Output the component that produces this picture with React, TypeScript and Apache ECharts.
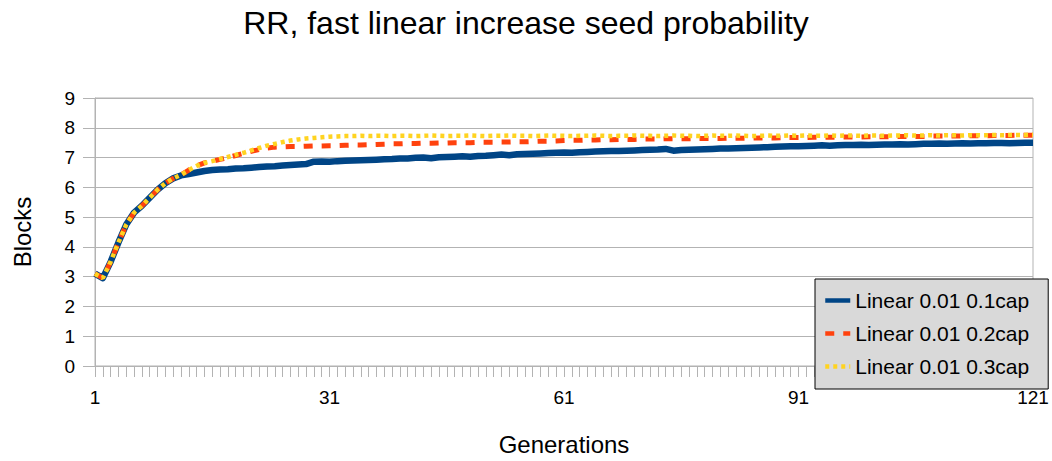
import React, { useEffect, useRef } from "react";
import * as echarts from "echarts";

const generations: string[] = Array.from({ length: 121 }, (_, i) => String(i + 1));

const linear01: number[] = [
  3.10, 2.95, 3.50, 4.15, 4.75, 5.15, 5.38, 5.65, 5.92, 6.14,
  6.30, 6.40, 6.45, 6.50, 6.55, 6.58, 6.60, 6.61, 6.63, 6.64,
  6.66, 6.68, 6.70, 6.71, 6.73, 6.75, 6.77, 6.78, 6.86, 6.87,
  6.86, 6.88, 6.89, 6.90, 6.91, 6.92, 6.93, 6.94, 6.95, 6.97,
  6.97, 6.99, 7.00, 6.98, 7.01, 7.02, 7.03, 7.04, 7.03, 7.05,
  7.06, 7.08, 7.10, 7.08, 7.11, 7.12, 7.13, 7.14, 7.15, 7.16,
  7.17, 7.16, 7.18, 7.19, 7.20, 7.21, 7.22, 7.22, 7.23, 7.24,
  7.25, 7.26, 7.27, 7.29, 7.23, 7.25, 7.26, 7.27, 7.28, 7.29,
  7.30, 7.30, 7.31, 7.32, 7.33, 7.34, 7.35, 7.36, 7.37, 7.38,
  7.38, 7.39, 7.40, 7.41, 7.40, 7.41, 7.42, 7.42, 7.43, 7.42,
  7.43, 7.44, 7.44, 7.45, 7.44, 7.45, 7.46, 7.46, 7.47, 7.46,
  7.47, 7.48, 7.47, 7.48, 7.48, 7.49, 7.49, 7.48, 7.49, 7.50,
  7.50,
];

const linear02: number[] = [
  3.10, 2.95, 3.50, 4.15, 4.75, 5.15, 5.38, 5.65, 5.92, 6.14,
  6.30, 6.42, 6.58, 6.72, 6.82, 6.88, 6.94, 7.00, 7.07, 7.14,
  7.21, 7.27, 7.32, 7.35, 7.36, 7.37, 7.37, 7.38, 7.39, 7.39,
  7.40, 7.40, 7.41, 7.42, 7.42, 7.43, 7.44, 7.45, 7.46, 7.46,
  7.47, 7.47, 7.48, 7.48, 7.49, 7.49, 7.50, 7.50, 7.50, 7.51,
  7.51, 7.51, 7.52, 7.52, 7.53, 7.53, 7.54, 7.55, 7.55, 7.56,
  7.57, 7.58, 7.58, 7.59, 7.59, 7.60, 7.60, 7.61, 7.61, 7.61,
  7.62, 7.62, 7.62, 7.63, 7.63, 7.63, 7.63, 7.64, 7.64, 7.64,
  7.64, 7.65, 7.65, 7.65, 7.65, 7.66, 7.66, 7.66, 7.67, 7.67,
  7.67, 7.67, 7.68, 7.68, 7.68, 7.68, 7.69, 7.69, 7.69, 7.70,
  7.70, 7.70, 7.70, 7.71, 7.71, 7.71, 7.71, 7.72, 7.72, 7.72,
  7.72, 7.73, 7.73, 7.73, 7.73, 7.74, 7.74, 7.74, 7.75, 7.75,
  7.75,
];

const linear03: number[] = [
  3.10, 2.95, 3.50, 4.15, 4.75, 5.15, 5.38, 5.65, 5.92, 6.14,
  6.30, 6.42, 6.58, 6.72, 6.82, 6.88, 6.95, 7.02, 7.09, 7.16,
  7.24, 7.32, 7.40, 7.46, 7.52, 7.57, 7.61, 7.64, 7.66, 7.68,
  7.70, 7.71, 7.72, 7.72, 7.73, 7.72, 7.73, 7.73, 7.72, 7.73,
  7.73, 7.72, 7.73, 7.74, 7.73, 7.72, 7.73, 7.73, 7.74, 7.73,
  7.72, 7.73, 7.73, 7.74, 7.73, 7.73, 7.72, 7.73, 7.74, 7.73,
  7.73, 7.72, 7.73, 7.73, 7.74, 7.73, 7.72, 7.73, 7.73, 7.74,
  7.73, 7.73, 7.72, 7.73, 7.74, 7.73, 7.73, 7.72, 7.73, 7.74,
  7.73, 7.73, 7.74, 7.73, 7.72, 7.73, 7.74, 7.73, 7.73, 7.74,
  7.73, 7.74, 7.73, 7.73, 7.74, 7.73, 7.74, 7.74, 7.73, 7.74,
  7.74, 7.73, 7.74, 7.74, 7.75, 7.74, 7.74, 7.75, 7.74, 7.75,
  7.75, 7.74, 7.75, 7.75, 7.75, 7.76, 7.75, 7.76, 7.76, 7.76,
  7.77,
];

const seriesNames: string[] = ["Linear 0.01 0.1cap", "Linear 0.01 0.2cap", "Linear 0.01 0.3cap"];
const titleText = "RR, fast linear increase seed probability";
const FONT = "'Liberation Sans', Arial, sans-serif";

export default function App() {
  const ref = useRef<HTMLDivElement>(null);
  useEffect(() => {
    if (!ref.current) return;
    const chart = echarts.init(ref.current, undefined, { renderer: "svg" });
    chart.setOption({
      animation: false,
      backgroundColor: "#ffffff",
      textStyle: { fontFamily: FONT },
      title: {
        text: titleText,
        left: "center",
        top: 2,
        textStyle: { fontFamily: FONT, fontSize: 32, fontWeight: "normal", color: "#000" },
      },
      grid: {
        left: 95,
        right: 19,
        top: 98,
        bottom: 94,
        show: true,
        borderColor: "#b3b3b3",
        borderWidth: 1,
        backgroundColor: "transparent",
      },
      legend: {
        orient: "vertical",
        left: 815,
        top: 279,
        padding: [11, 19, 12, 8],
        itemWidth: 25,
        itemHeight: 14,
        itemGap: 12,
        backgroundColor: "#d9d9d9",
        borderColor: "#000",
        borderWidth: 1,
        borderRadius: 0,
        itemStyle: { color: "rgba(0,0,0,0)", borderColor: "rgba(0,0,0,0)", borderWidth: 0, opacity: 0 },
        lineStyle: { width: 4.5 },
        textStyle: { fontFamily: FONT, fontSize: 21, color: "#000", lineHeight: 21 },
        data: seriesNames,
      },
      xAxis: {
        type: "category",
        data: generations,
        boundaryGap: false,
        name: "Generations",
        nameLocation: "middle",
        nameGap: 66,
        nameTextStyle: { fontFamily: FONT, fontSize: 24, color: "#000" },
        axisLine: { lineStyle: { color: "#b3b3b3", width: 1 } },
        axisTick: { show: true, interval: 0, length: 11, lineStyle: { color: "#b3b3b3" } },
        axisLabel: { interval: 29, fontFamily: FONT, fontSize: 19, color: "#000", margin: 22 },
        splitLine: { show: false },
      },
      yAxis: {
        type: "value",
        min: 0,
        max: 9,
        interval: 1,
        name: "Blocks",
        nameLocation: "middle",
        nameGap: 61,
        nameTextStyle: { fontFamily: FONT, fontSize: 24, color: "#000" },
        axisLine: { show: true, lineStyle: { color: "#b3b3b3", width: 1 } },
        axisTick: { show: true, length: 12, lineStyle: { color: "#b3b3b3" } },
        axisLabel: { fontFamily: FONT, fontSize: 19, color: "#000", margin: 20 },
        splitLine: { show: true, lineStyle: { color: "#b3b3b3", width: 1 } },
      },
      series: [
        {
          name: seriesNames[0],
          type: "line",
          data: linear01,
          symbol: "none",
          smooth: false,
          lineStyle: { color: "#004586", width: 6.5, cap: "butt", join: "round" },
          itemStyle: { color: "#004586" },
        },
        {
          name: seriesNames[1],
          type: "line",
          data: linear02,
          symbol: "none",
          lineStyle: { color: "#ff420e", width: 5, type: [9, 9], cap: "butt" },
          itemStyle: { color: "#ff420e" },
        },
        {
          name: seriesNames[2],
          type: "line",
          data: linear03,
          symbol: "none",
          lineStyle: { color: "#ffd320", width: 4.5, type: [4, 4], cap: "butt" },
          itemStyle: { color: "#ffd320" },
        },
      ],
    });
    return () => chart.dispose();
  }, []);
  return (
    <div
      ref={ref}
      style={{ position: "absolute", left: 0, top: 0, width: 1052, height: 461 }}
    />
  );
}
